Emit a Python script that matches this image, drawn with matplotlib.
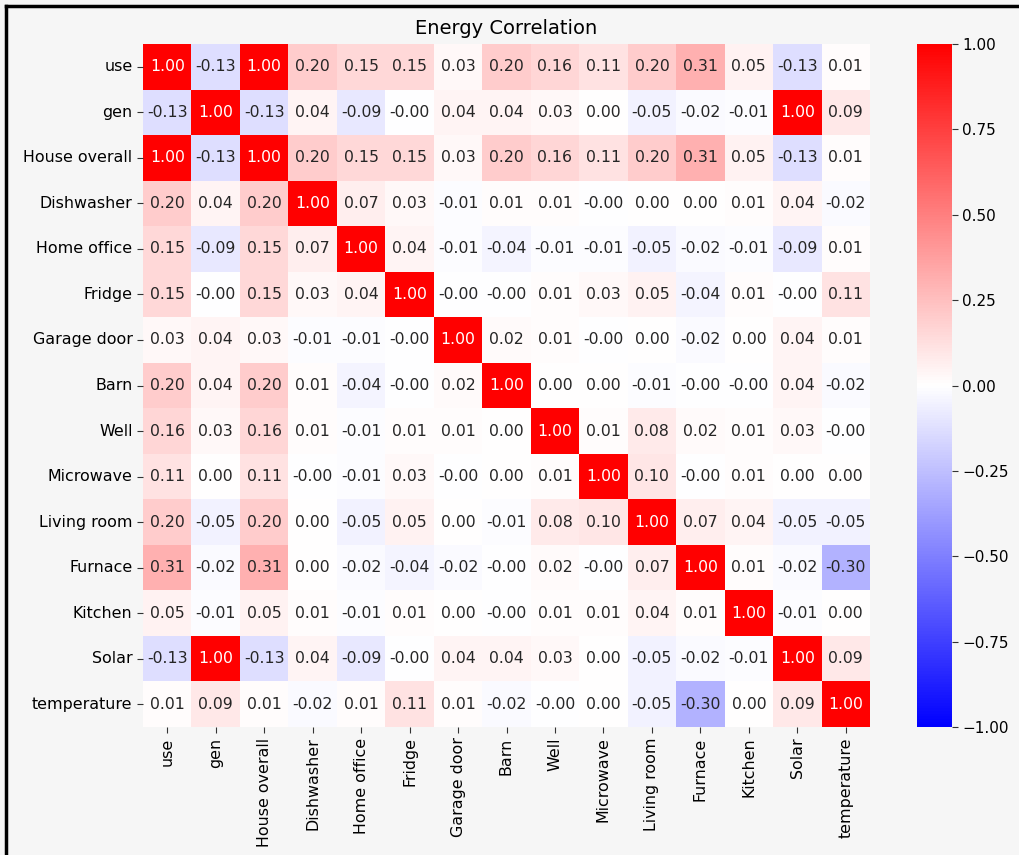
import numpy as np
import matplotlib
matplotlib.use("Agg")
import matplotlib.pyplot as plt
import seaborn as sns
from matplotlib.lines import Line2D

plt.rcParams["font.family"] = ["DejaVu Sans"]

# column / row names of the correlation matrix
labels = ["use", "gen", "House overall", "Dishwasher", "Home office", "Fridge",
          "Garage door", "Barn", "Well", "Microwave", "Living room", "Furnace",
          "Kitchen", "Solar", "temperature"]

# -0.004 stands for the values shown as "-0.00"
z = -0.004
row_use         = [1.00, -0.13, 1.00, 0.20, 0.15, 0.15, 0.03, 0.20, 0.16, 0.11, 0.20, 0.31, 0.05, -0.13, 0.01]
row_gen         = [-0.13, 1.00, -0.13, 0.04, -0.09, z, 0.04, 0.04, 0.03, 0.00, -0.05, -0.02, -0.01, 1.00, 0.09]
row_house       = [1.00, -0.13, 1.00, 0.20, 0.15, 0.15, 0.03, 0.20, 0.16, 0.11, 0.20, 0.31, 0.05, -0.13, 0.01]
row_dishwasher  = [0.20, 0.04, 0.20, 1.00, 0.07, 0.03, -0.01, 0.01, 0.01, z, 0.00, 0.00, 0.01, 0.04, -0.02]
row_homeoffice  = [0.15, -0.09, 0.15, 0.07, 1.00, 0.04, -0.01, -0.04, -0.01, -0.01, -0.05, -0.02, -0.01, -0.09, 0.01]
row_fridge      = [0.15, z, 0.15, 0.03, 0.04, 1.00, z, z, 0.01, 0.03, 0.05, -0.04, 0.01, z, 0.11]
row_garage      = [0.03, 0.04, 0.03, -0.01, -0.01, z, 1.00, 0.02, 0.01, z, 0.00, -0.02, 0.00, 0.04, 0.01]
row_barn        = [0.20, 0.04, 0.20, 0.01, -0.04, z, 0.02, 1.00, 0.00, 0.00, -0.01, z, z, 0.04, -0.02]
row_well        = [0.16, 0.03, 0.16, 0.01, -0.01, 0.01, 0.01, 0.00, 1.00, 0.01, 0.08, 0.02, 0.01, 0.03, z]
row_microwave   = [0.11, 0.00, 0.11, z, -0.01, 0.03, z, 0.00, 0.01, 1.00, 0.10, z, 0.01, 0.00, 0.00]
row_living      = [0.20, -0.05, 0.20, 0.00, -0.05, 0.05, 0.00, -0.01, 0.08, 0.10, 1.00, 0.07, 0.04, -0.05, -0.05]
row_furnace     = [0.31, -0.02, 0.31, 0.00, -0.02, -0.04, -0.02, z, 0.02, z, 0.07, 1.00, 0.01, -0.02, -0.30]
row_kitchen     = [0.05, -0.01, 0.05, 0.01, -0.01, 0.01, 0.00, z, 0.01, 0.01, 0.04, 0.01, 1.00, -0.01, 0.00]
row_solar       = [-0.13, 1.00, -0.13, 0.04, -0.09, z, 0.04, 0.04, 0.03, 0.00, -0.05, -0.02, -0.01, 1.00, 0.09]
row_temperature = [0.01, 0.09, 0.01, -0.02, 0.01, 0.11, 0.01, -0.02, z, 0.00, -0.05, -0.30, 0.00, 0.09, 1.00]

corr = np.array([row_use, row_gen, row_house, row_dishwasher, row_homeoffice,
                 row_fridge, row_garage, row_barn, row_well, row_microwave,
                 row_living, row_furnace, row_kitchen, row_solar, row_temperature])

bg = "#f6f6f6"
fig = plt.figure(figsize=(10.19, 8.55), dpi=100, facecolor=bg)
ax = fig.add_axes([143/1019, 128/855, 727/1019, 683/855])
cax = fig.add_axes([917/1019, 128/855, 35/1019, 683/855])

sns.heatmap(corr, ax=ax, cbar_ax=cax, cmap="bwr", vmin=-1, vmax=1,
            annot=True, fmt=".2f", annot_kws={"size": 11.3},
            xticklabels=labels, yticklabels=labels)

ax.set_title("Energy Correlation", fontsize=14, pad=7)
ax.tick_params(axis="both", labelsize=11.4, length=4, color="#333333")
plt.setp(ax.get_xticklabels(), rotation=90)
plt.setp(ax.get_yticklabels(), rotation=0)

cax.set_yticks([-1, -0.75, -0.5, -0.25, 0, 0.25, 0.5, 0.75, 1])
cax.set_yticklabels(["\u22121.00", "\u22120.75", "\u22120.50", "\u22120.25", "0.00",
                     "0.25", "0.50", "0.75", "1.00"])
cax.tick_params(labelsize=11, length=4, color="#333333")

# screenshot frame on top and left
fig.add_artist(Line2D([6/1019, 1], [1 - 6/855, 1 - 6/855], color="black", lw=2.5,
                      transform=fig.transFigure))
fig.add_artist(Line2D([6/1019, 6/1019], [0, 1 - 6/855], color="black", lw=2.5,
                      transform=fig.transFigure))

fig.savefig("out.png", dpi=100, facecolor=bg)
